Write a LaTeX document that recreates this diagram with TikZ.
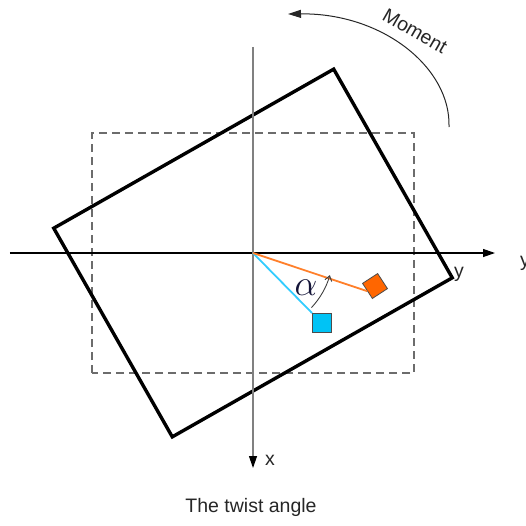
\documentclass[tikz,border=0pt]{standalone}
\usepackage{fontspec}
\setmainfont{Liberation Sans}
\usetikzlibrary{arrows.meta}
\definecolor{pointorange}{HTML}{FF6600}
\definecolor{lineorange}{HTML}{FF7F2A}
\definecolor{pointblue}{HTML}{00C3F5}
\definecolor{lineblue}{HTML}{33CCFF}
\definecolor{alphablue}{HTML}{141438}
\begin{document}
\begin{tikzpicture}[x=1pt,y=1pt,
  axis/.style={line width=1.2pt,-{Triangle[length=12pt,width=8pt,black]}},
  lbl/.style={font=\fontsize{19.5}{22}\selectfont,text=black!85,inner sep=0pt},
  marker/.style={draw=black!70,line width=0.8pt,minimum size=19pt,inner sep=0pt}]
\useasboundingbox (-253,-272) rectangle (273,253);
\def\W{161}  % half width of section
\def\H{120}  % half height of section
\def\T{29.6} % twist angle
\coordinate (O) at (0,0);
% section before twist
\draw[gray!85!black,line width=1.1pt,dash pattern=on 8pt off 5pt] (-\W,-\H) rectangle (\W,\H);
% section after twist
\draw[line width=3.4pt,line join=miter,rotate=\T] (-\W,-\H) rectangle (\W,\H);
% axes
\draw[axis] (-243,0) -- (242,0);
\draw[axis,gray] (0,206) -- (0,-215);
\node[lbl,anchor=base west] (ylbl) at (267,-13) {y};
\node[lbl,anchor=base west] (xlbl) at (12,-212) {x};
\node[lbl,anchor=base west] (yrot) at (201,-24) {y};
% point before and after
\node[marker,fill=pointblue] (pblue) at (69,-70) {};
\node[marker,fill=pointorange,rotate=33,minimum size=18pt] (porange) at (122,-33) {};
\draw[lineblue,line width=1.8pt] (O) -- (pblue.north west);
\draw[lineorange,line width=1.8pt] (O) -- (porange.west);
% angle
\draw[black!75,line width=0.9pt,-{Straight Barb[length=5pt,width=7pt]}] (-43:80) arc[start angle=-43,end angle=-16,radius=80];
\node[text=alphablue,font=\fontsize{24}{24}\selectfont,scale=1.45] (alpha) at (53,-35) {$\alpha$};
% moment
\coordinate (mstart) at (196,126);
\coordinate (mend) at (35,239);
\draw[black!85,line width=1pt,-{Triangle[length=13pt,width=8pt]}] (mstart) .. controls (198,185) and (130,240) .. (mend);
\node[lbl,rotate=-30] (moment) at (162,222) {Moment};
% caption
\node[lbl,anchor=base] (caption) at (-2,-259) {The twist angle};
\end{tikzpicture}
\end{document}
